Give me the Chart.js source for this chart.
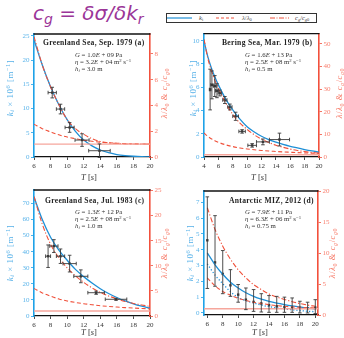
<!DOCTYPE html>
<html><head><meta charset="utf-8">
<script src="https://cdn.jsdelivr.net/npm/chart.js@4.4.1/dist/chart.umd.min.js"></script>
<style>
html,body{margin:0;padding:0;background:#fff;}
body{width:344px;height:338px;position:relative;overflow:hidden;font-family:'Liberation Serif',serif;}
canvas{position:absolute;}
.t{position:absolute;white-space:nowrap;line-height:1;}
.pt{font-weight:bold;font-size:7.6px;letter-spacing:0.3px;color:#222;}
.pp{font-size:6.8px;line-height:7px;color:#333;}
.yl{font-size:9px;letter-spacing:0.5px;color:#55b0e8;transform:translate(-50%,-50%) rotate(-90deg);}
.yr{font-size:8.5px;letter-spacing:0.6px;color:#f77a68;transform:translate(-50%,-50%) rotate(-90deg);}
.xt{font-size:8.5px;color:#333;transform:translate(-50%,-50%);}
sub{font-size:70%;vertical-align:-0.3em;line-height:0;}
sup{font-size:70%;vertical-align:0.45em;line-height:0;}
</style></head><body>
<div class="t" style="left:33px;top:1px;font:italic 20px 'DejaVu Sans',sans-serif;color:#9b3598;">c<sub>g</sub> = δσ/δk<sub>r</sub></div>
<svg style="position:absolute;left:166px;top:13px" width="152" height="11">
 <rect x="0.5" y="0.5" width="150" height="9" fill="#fff" stroke="#333" stroke-width="1"/>
 <line x1="1" x2="26" y1="5" y2="5" stroke="#1e8fd6" stroke-width="1.2"/>
 <text x="33" y="7.3" font-family="Liberation Serif" font-size="6.5" fill="#444"><tspan font-style="italic">k</tspan><tspan font-size="4.5" dy="1">i</tspan></text>
 <line x1="50" x2="68" y1="5" y2="5" stroke="#f0503a" stroke-width="1.2" stroke-dasharray="3,2"/>
 <text x="76" y="7.3" font-family="Liberation Serif" font-size="6.5" fill="#444"><tspan font-style="italic">λ</tspan>/<tspan font-style="italic">λ</tspan><tspan font-size="4.5" dy="1">0</tspan></text>
 <line x1="104" x2="123" y1="5" y2="5" stroke="#f0503a" stroke-width="1.2" stroke-dasharray="5,1.5,1,1.5"/>
 <text x="129" y="7.3" font-family="Liberation Serif" font-size="6.5" fill="#444"><tspan font-style="italic">c</tspan><tspan font-size="4.5" dy="1" font-style="italic">g</tspan><tspan dy="-1">/</tspan><tspan font-style="italic">c</tspan><tspan font-size="4.5" dy="1" font-style="italic">g</tspan><tspan font-size="4.5">0</tspan></text>
</svg>

<canvas id="cA" width="172" height="152" style="left:0;top:28px"></canvas>
<canvas id="cB" width="172" height="152" style="left:172px;top:28px"></canvas>
<canvas id="cC" width="172" height="152" style="left:0;top:183px"></canvas>
<canvas id="cD" width="172" height="152" style="left:172px;top:183px"></canvas>

<!-- panel texts -->
<div class="t pt" style="left:43px;top:39px">Greenland Sea, Sep. 1979 (a)</div>
<div class="t pp" style="left:75px;top:50.5px"><i>G</i> = 1.0<i>E</i> + 09 Pa<br><i>η</i> = 3.2<i>E</i> + 04 m<sup>2</sup> s<sup>−1</sup><br><i>h<sub>i</sub></i> = 3.0 m</div>
<div class="t pt" style="left:222px;top:39px">Bering Sea, Mar. 1979 (b)</div>
<div class="t pp" style="left:245px;top:50.5px"><i>G</i> = 1.6<i>E</i> + 13 Pa<br><i>η</i> = 2.5<i>E</i> + 08 m<sup>2</sup> s<sup>−1</sup><br><i>h<sub>i</sub></i> = 0.5 m</div>
<div class="t pt" style="left:45px;top:196.5px">Greenland Sea, Jul. 1983 (c)</div>
<div class="t pp" style="left:75px;top:208px"><i>G</i> = 1.3<i>E</i> + 12 Pa<br><i>η</i> = 2.5<i>E</i> + 08 m<sup>2</sup> s<sup>−1</sup><br><i>h<sub>i</sub></i> = 1.0 m</div>
<div class="t pt" style="left:229px;top:196.5px">Antarctic MIZ, 2012 (d)</div>
<div class="t pp" style="left:245px;top:208px"><i>G</i> = 7.9<i>E</i> + 11 Pa<br><i>η</i> = 6.3<i>E</i> + 06 m<sup>2</sup> s<sup>−1</sup><br><i>h<sub>i</sub></i> = 0.75 m</div>

<!-- axis titles -->
<div class="t yl" style="left:10px;top:88px"><i>k<sub>i</sub></i> × 10<sup>6</sup> [m<sup>−1</sup>]</div>
<div class="t yr" style="left:164px;top:93px"><i>λ</i>/<i>λ</i><sub>0</sub> &amp; <i>c<sub>g</sub></i>/<i>c</i><sub><i>g</i>0</sub></div>
<div class="t xt" style="left:89px;top:177px"><i>T</i> [<i>s</i>]</div>
<div class="t yl" style="left:193px;top:88px"><i>k<sub>i</sub></i> × 10<sup>6</sup> [m<sup>−1</sup>]</div>
<div class="t yr" style="left:339px;top:93px"><i>λ</i>/<i>λ</i><sub>0</sub> &amp; <i>c<sub>g</sub></i>/<i>c</i><sub><i>g</i>0</sub></div>
<div class="t xt" style="left:259px;top:177px"><i>T</i> [<i>s</i>]</div>
<div class="t yl" style="left:10px;top:253px"><i>k<sub>i</sub></i> × 10<sup>6</sup> [m<sup>−1</sup>]</div>
<div class="t yr" style="left:164px;top:253px"><i>λ</i>/<i>λ</i><sub>0</sub> &amp; <i>c<sub>g</sub></i>/<i>c</i><sub><i>g</i>0</sub></div>
<div class="t xt" style="left:89px;top:332px"><i>T</i> [<i>s</i>]</div>
<div class="t yl" style="left:190px;top:253px"><i>k<sub>i</sub></i> × 10<sup>6</sup> [m<sup>−1</sup>]</div>
<div class="t yr" style="left:332px;top:253px"><i>λ</i>/<i>λ</i><sub>0</sub> &amp; <i>c<sub>g</sub></i>/<i>c</i><sub><i>g</i>0</sub></div>
<div class="t xt" style="left:260px;top:332px"><i>T</i> [<i>s</i>]</div>

<script>
// ---------- DATA ----------
// Panel (a) Greenland Sea, Sep. 1979
const T_A   = [6,7,8,9,10,11,12,13,14,15,16,17,18,19,20];
const KI_A  = [24.2,19.0,14.5,10.8,7.7,5.3,3.5,2.3,1.45,0.9,0.5,0.28,0.15,0.07,0.03];
const LAM_A = [2.55,2.2,1.95,1.72,1.55,1.42,1.3,1.22,1.15,1.1,1.07,1.04,1.02,1.01,1.0];
const CG_A  = [9.35,7.14,5.44,4.07,2.9,2.2,1.76,1.42,1.2,1.1,1.05,1.02,1.01,1.0,1.0];
const OT_A  = [8.2,9.2,10.3,11.8,13.9];
const OK_A  = [13.3,9.9,6.1,3.5,1.3];
const OTE_A = [0.5,0.5,0.55,0.85,1.3];
const OKE_A = [1.1,1.0,1.0,1.3,1.4];
const XT_A = [6,8,10,12,14,16,18,20], YLT_A = [0,5,10,15,20,25], YRT_A = [0,2,4,6,8];

// Panel (b) Bering Sea, Mar. 1979
const T_B   = [4,4.5,5,5.5,6,7,8,9,10,11,12,13,14,15,16,17,18,19,20];
const KI_B  = [10,8.7,7.7,6.9,6.2,5.0,4.05,3.25,2.6,2.15,1.78,1.5,1.27,1.08,0.92,0.78,0.64,0.52,0.42];
const LAM_B = [10.6,9.2,8.1,7.2,6.5,5.4,4.6,4.0,3.55,3.2,2.9,2.65,2.45,2.25,2.1,1.95,1.82,1.7,1.6];
const CG_B  = [52,44,38.5,34,30.5,24,18.8,15,12.2,9.8,7.9,6.4,5.2,4.3,3.5,2.9,2.4,2.0,1.7];
const OT_B  = [4.85,5.1,5.5,5.8,6.2,6.9,7.6,8.4,9.3,10.7,12.2,14.5];
const OK_B  = [5.8,6.2,6.1,5.7,5.5,4.9,4.3,3.5,2.2,1.0,1.3,1.5];
const OTE_B = [0.1,0.15,0.2,0.2,0.25,0.3,0.3,0.4,0.45,0.6,0.9,1.4];
const OKE_B = [1.75,1.2,0.9,0.6,0.25,0.3,0.25,0.35,0.15,0.15,0.25,0.55];
const XT_B = [4,6,8,10,12,14,16,18,20], YLT_B = [0,2,4,6,8,10], YRT_B = [0,10,20,30,40,50];

// Panel (c) Greenland Sea, Jul. 1983
const T_C   = [6,7,8,9,10,11,12,13,14,15,16,17,18,19,20];
const KI_C  = [74,60,49,41,34.7,29,24.5,20.5,17,14,11.5,9.4,7.6,6.1,4.8];
const LAM_C = [5.5,4.6,3.95,3.4,3.0,2.7,2.45,2.25,2.05,1.9,1.78,1.67,1.58,1.5,1.42];
const CG_C  = [23.8,18.3,14.3,11.6,9.6,8.0,6.7,5.6,4.7,4.0,3.4,2.9,2.5,2.2,1.9];
const OT_C  = [7.7,8.4,9.2,10.3,11.65,13.5,15.9];
const OK_C  = [37.2,43.5,37.2,32.6,24.7,14.5,10.4];
const OTE_C = [0.3,0.5,0.5,0.8,0.85,1.0,1.3];
const OKE_C = [7,4,4.5,5.2,4,1,0.6];
const XT_C = [6,8,10,12,14,16,18,20], YLT_C = [0,10,20,30,40,50,60,70], YRT_C = [0,5,10,15,20,25];

// Panel (d) Antarctic MIZ, 2012
const T_D    = [6,7,8,9,10,11,12,13,14,15,16,17,18,19,20];
const KI_D   = [3.8,3.05,2.45,1.95,1.58,1.28,1.05,0.87,0.73,0.62,0.53,0.45,0.38,0.31,0.25];
const KI2_D  = [3.1,2.4,1.85,1.35,0.98,0.78,0.63,0.5,0.4,0.32,0.25,0.2,0.15,0.11,0.08];
const LAM_D  = [6.0,4.7,3.8,3.2,2.7,2.35,2.05,1.85,1.67,1.52,1.4,1.32,1.24,1.18,1.13];
const CG_D   = [17.3,13.8,11.1,9.0,7.3,6.0,4.9,4.1,3.4,2.9,2.5,2.15,1.85,1.6,1.4];
const OT_D   = [6,7,8,9,10,11,12,13,14,15,16,17,18,19,20];
const OK_D   = [4.6,3.2,2.47,1.75,1.16,0.84,0.7,0.6,0.49,0.42,0.38,0.36,0.32,0.3,0.34];
const OKLO_D = [1.55,1.69,1.22,1.05,0.68,0.21,0.1,0.06,0.04,0.04,0.04,0.04,0.0,0.0,-0.04];
const OKHI_D = [7.35,6.16,3.95,2.74,1.8,1.58,1.48,1.22,1.1,1.05,1.0,0.95,0.74,0.68,0.84];
const XT_D = [6,8,10,12,14,16,18,20], YLT_D = [0,1,2,3,4,5,6,7], YRT_D = [0,5,10,15,20];

const REF_RATIO = 1; // lambda/lambda0 = 1 reference level

// ---------- STYLE ----------
const BLUE = '#1e8fd6', SPINE_BLUE = '#1ea2e8', TICK_BLUE = '#5ab4ea';
const RED = '#f0503a', SPINE_RED = '#f2503c', TICK_RED = '#f98070', LIGHT_RED = '#f6a69c';
const PT = '#3a3a3a';
const FONT = "'Liberation Serif', serif";

const errorBars = {
  id: 'errorBars',
  afterDatasetsDraw(chart) {
    const ctx = chart.ctx;
    chart.data.datasets.forEach(ds => {
      if (!ds.errYLo) return;
      const xs = chart.scales.x, ys = chart.scales[ds.yAxisID];
      ctx.save();
      ctx.strokeStyle = PT; ctx.lineWidth = 0.9;
      const cap = 1.8;
      ds.data.forEach((p, j) => {
        const px = xs.getPixelForValue(p.x), py = ys.getPixelForValue(p.y);
        const y1 = ys.getPixelForValue(ds.errYLo[j]), y2 = ys.getPixelForValue(ds.errYHi[j]);
        ctx.beginPath();
        ctx.moveTo(px, y1); ctx.lineTo(px, y2);
        ctx.moveTo(px - cap, y1); ctx.lineTo(px + cap, y1);
        ctx.moveTo(px - cap, y2); ctx.lineTo(px + cap, y2);
        if (ds.errXLo) {
          const x1 = xs.getPixelForValue(ds.errXLo[j]), x2 = xs.getPixelForValue(ds.errXHi[j]);
          ctx.moveTo(x1, py); ctx.lineTo(x2, py);
          ctx.moveTo(x1, py - cap); ctx.lineTo(x1, py + cap);
          ctx.moveTo(x2, py - cap); ctx.lineTo(x2, py + cap);
        }
        ctx.stroke();
      });
      ctx.restore();
    });
  }
};
const topFrame = {
  id: 'topFrame',
  afterDraw(chart) {
    const a = chart.chartArea, ctx = chart.ctx;
    ctx.save(); ctx.strokeStyle = '#111'; ctx.lineWidth = 1.3;
    ctx.beginPath(); ctx.moveTo(a.left - 0.5, a.top); ctx.lineTo(a.right + 0.5, a.top); ctx.stroke();
    ctx.restore();
  }
};

function pts(xs, ys) { return xs.map((x, i) => ({ x, y: ys[i] })); }

function panel(id, p) {
  const datasets = [
    { data: [{ x: p.xmin, y: REF_RATIO }, { x: p.xmax, y: REF_RATIO }], yAxisID: 'yR', borderColor: LIGHT_RED, borderWidth: 1.4, pointRadius: 0 },
    { data: pts(p.T, p.lam), yAxisID: 'yR', borderColor: RED, borderWidth: 1.1, borderDash: [4, 2.5], pointRadius: 0, cubicInterpolationMode: 'monotone' },
    { data: pts(p.T, p.cg), yAxisID: 'yR', borderColor: RED, borderWidth: 1.1, borderDash: [5, 2, 1.2, 2], pointRadius: 0, cubicInterpolationMode: 'monotone' },
    { data: pts(p.T, p.ki), yAxisID: 'yL', borderColor: BLUE, borderWidth: 1.3, pointRadius: 0, cubicInterpolationMode: 'monotone' }
  ];
  if (p.ki2) datasets.push({ data: pts(p.T, p.ki2), yAxisID: 'yL', borderColor: BLUE, borderWidth: 1.3, borderDash: [1.2, 2], pointRadius: 0, cubicInterpolationMode: 'monotone' });
  datasets.push({
    data: pts(p.oT, p.oK), yAxisID: 'yL', showLine: false, pointStyle: 'rect', pointRadius: 1.7,
    pointBackgroundColor: PT, pointBorderColor: PT, pointBorderWidth: 0,
    errYLo: p.oKLo, errYHi: p.oKHi, errXLo: p.oTLo, errXHi: p.oTHi
  });
  const tickOpts = (color) => ({ color, font: { family: FONT, size: 7 }, padding: 1.5, autoSkip: false, maxRotation: 0 });
  new Chart(document.getElementById(id), {
    type: 'line',
    data: { datasets },
    options: {
      responsive: false, animation: false, devicePixelRatio: 1,
      layout: { padding: { top: p.padTop, left: 0, right: 0, bottom: 0 } },
      plugins: { legend: { display: false }, tooltip: { enabled: false } },
      scales: {
        x: {
          type: 'linear', min: p.xmin, max: p.xmax,
          afterBuildTicks: s => { s.ticks = p.xt.map(v => ({ value: v })); },
          afterFit: s => { s.height = p.xH; },
          ticks: tickOpts('#333'),
          grid: { drawOnChartArea: false, tickLength: 3, tickColor: '#222', tickWidth: 0.8 },
          border: { color: '#111', width: 1.3 }
        },
        yL: {
          position: 'left', min: p.yLmin, max: p.yLmax,
          afterBuildTicks: s => { s.ticks = p.ylt.map(v => ({ value: v })); },
          afterFit: s => { s.width = p.wL; },
          ticks: tickOpts(TICK_BLUE),
          grid: { drawOnChartArea: false, tickLength: 3, tickColor: SPINE_BLUE, tickWidth: 0.8 },
          border: { color: SPINE_BLUE, width: 1.6 }
        },
        yR: {
          position: 'right', min: p.yRmin, max: p.yRmax,
          afterBuildTicks: s => { s.ticks = p.yrt.map(v => ({ value: v })); },
          afterFit: s => { s.width = p.wR; },
          ticks: tickOpts(TICK_RED),
          grid: { drawOnChartArea: false, tickLength: 3, tickColor: SPINE_RED, tickWidth: 0.8 },
          border: { color: SPINE_RED, width: 1.6 }
        }
      }
    },
    plugins: [errorBars, topFrame]
  });
}

const sym = (v, e, s) => v.map((x, i) => x + s * e[i]);

panel('cA', { T: T_A, ki: KI_A, lam: LAM_A, cg: CG_A, oT: OT_A, oK: OK_A,
  oKLo: sym(OK_A, OKE_A, -1), oKHi: sym(OK_A, OKE_A, 1), oTLo: sym(OT_A, OTE_A, -1), oTHi: sym(OT_A, OTE_A, 1),
  xmin: 6, xmax: 20, yLmin: 0, yLmax: 25.4, yRmin: 0, yRmax: 9.55, xt: XT_A, ylt: YLT_A, yrt: YRT_A,
  padTop: 6, xH: 23, wL: 34, wR: 22 });
panel('cB', { T: T_B, ki: KI_B, lam: LAM_B, cg: CG_B, oT: OT_B, oK: OK_B,
  oKLo: sym(OK_B, OKE_B, -1), oKHi: sym(OK_B, OKE_B, 1), oTLo: sym(OT_B, OTE_B, -1), oTHi: sym(OT_B, OTE_B, 1),
  xmin: 4, xmax: 20, yLmin: 0, yLmax: 10.6, yRmin: 0, yRmax: 54.5, xt: XT_B, ylt: YLT_B, yrt: YRT_B,
  padTop: 5, xH: 23, wL: 32, wR: 25 });
panel('cC', { T: T_C, ki: KI_C, lam: LAM_C, cg: CG_C, oT: OT_C, oK: OK_C,
  oKLo: sym(OK_C, OKE_C, -1), oKHi: sym(OK_C, OKE_C, 1), oTLo: sym(OT_C, OTE_C, -1), oTHi: sym(OT_C, OTE_C, 1),
  xmin: 6, xmax: 20, yLmin: 0, yLmax: 78.4, yRmin: 0, yRmax: 25.1, xt: XT_C, ylt: YLT_C, yrt: YRT_C,
  padTop: 7, xH: 19, wL: 34, wR: 22 });
panel('cD', { T: T_D, ki: KI_D, ki2: KI2_D, lam: LAM_D, cg: CG_D, oT: OT_D, oK: OK_D,
  oKLo: OKLO_D, oKHi: OKHI_D,
  xmin: 5.57, xmax: 20.35, yLmin: -0.13, yLmax: 7.72, yRmin: 0, yRmax: 20, xt: XT_D, ylt: YLT_D, yrt: YRT_D,
  padTop: 8, xH: 20, wL: 32, wR: 26 });
</script>
</body></html>
